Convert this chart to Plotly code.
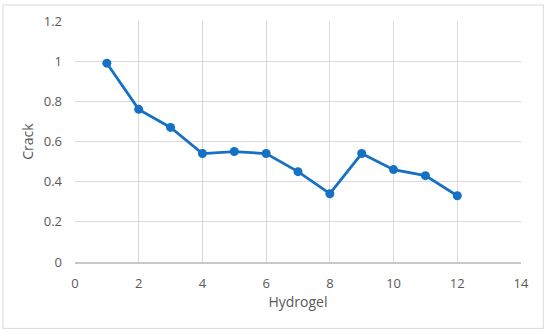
import plotly.graph_objects as go

hydrogel = [1, 2, 3, 4, 5, 6, 7, 8, 9, 10, 11, 12]
crack = [0.99, 0.76, 0.67, 0.54, 0.55, 0.54, 0.45, 0.34, 0.54, 0.46, 0.43, 0.33]

blue = "#1670C4"
grid = "#D9D9D9"
txt = "#595959"
font_family = "Open Sans, Liberation Sans, sans-serif"

fig = go.Figure()
fig.add_trace(go.Scatter(
    x=hydrogel, y=crack, mode="lines+markers",
    line=dict(color=blue, width=2.75),
    marker=dict(color=blue, size=9),
    showlegend=False,
))

fig.update_layout(
    width=550, height=336,
    margin=dict(l=75, r=29, t=21, b=74),
    paper_bgcolor="white", plot_bgcolor="white",
    font=dict(family=font_family, color=txt, size=13),
    xaxis=dict(
        range=[0, 14], tickvals=[0, 2, 4, 6, 8, 10, 12, 14],
        showgrid=True, gridcolor=grid, gridwidth=1,
        zeroline=False, showline=True, linecolor="#C8C8C8", linewidth=1.5,
        ticks="", ticklabelstandoff=9,
        title=dict(text="Hydrogel", font=dict(size=14, color=txt), standoff=6),
        tickfont=dict(size=13, color=txt),
    ),
    yaxis=dict(
        range=[0, 1.2], tickvals=[0, 0.2, 0.4, 0.6, 0.8, 1, 1.2],
        ticktext=["0", "0.2", "0.4", "0.6", "0.8", "1", "1.2"],
        showgrid=True, gridcolor=grid, gridwidth=1,
        zeroline=False, showline=False,
        ticks="", ticklabelstandoff=12,
        title=dict(text="Crack", font=dict(size=14, color=txt), standoff=6),
        tickfont=dict(size=13, color=txt),
    ),
    shapes=[dict(
        type="rect", xref="paper", yref="paper",
        x0=-0.1615, x1=1.05, y0=-0.2755, y1=1.0665,
        line=dict(color="#D9D9D9", width=1), fillcolor="rgba(0,0,0,0)",
        layer="below",
    )],
)

fig.write_html("out.html", config={"displayModeBar": False},
               post_script="document.body.style.margin='0';")
